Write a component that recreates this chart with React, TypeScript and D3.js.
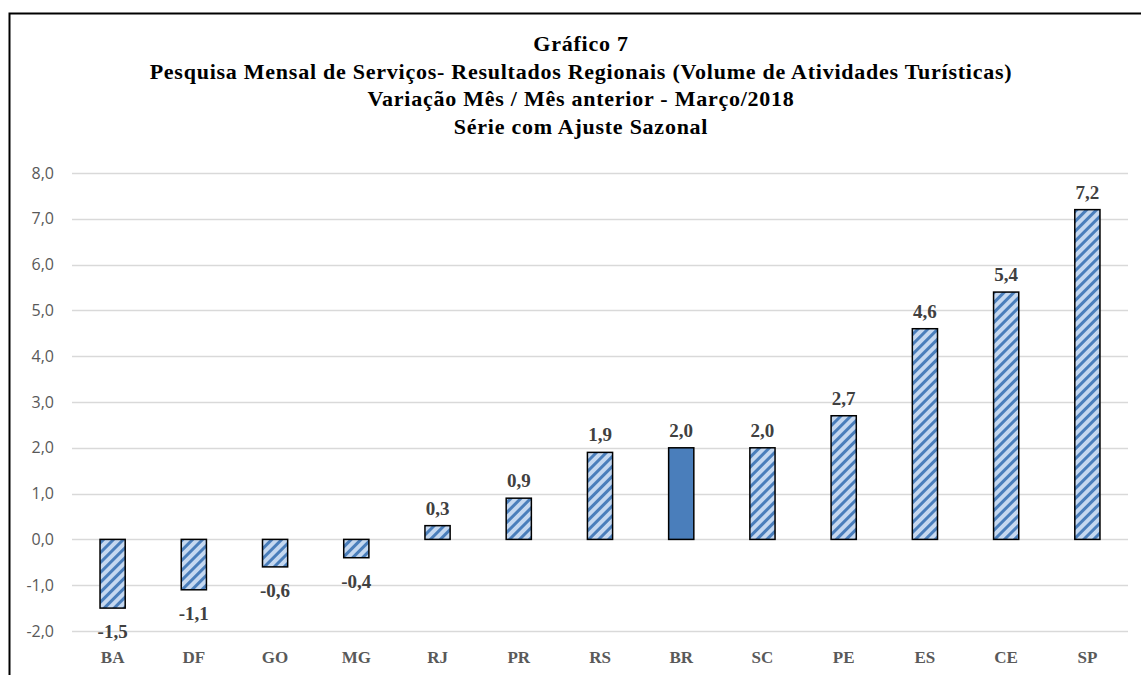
import React, { useEffect, useRef } from 'react';
import * as d3 from 'd3';

// Regions and monthly variation (%), March/2018
const regions = ['BA', 'DF', 'GO', 'MG', 'RJ', 'PR', 'RS', 'BR', 'SC', 'PE', 'ES', 'CE', 'SP'];
const variation = [-1.5, -1.1, -0.6, -0.4, 0.3, 0.9, 1.9, 2.0, 2.0, 2.7, 4.6, 5.4, 7.2];
const yTicks = [-2, -1, 0, 1, 2, 3, 4, 5, 6, 7, 8];
const titleLines = [
  'Gráfico 7',
  'Pesquisa Mensal de Serviços- Resultados Regionais (Volume de Atividades Turísticas)',
  'Variação Mês / Mês anterior - Março/2018',
  'Série com Ajuste Sazonal',
];

const W = 1141;
const H = 675;
const fmt = (v: number) => v.toFixed(1).replace('.', ',');

const App = () => {
  const ref = useRef<SVGSVGElement | null>(null);

  useEffect(() => {
    const svg = d3.select(ref.current);
    svg.selectAll('*').remove();

    const margin = { top: 173, right: 13, bottom: 44, left: 72 };
    const width = W - margin.left - margin.right;
    const height = H - margin.top - margin.bottom;

    // hatch pattern for the regional bars
    const defs = svg.append('defs');
    const pat = defs.append('pattern')
      .attr('id', 'hatch')
      .attr('patternUnits', 'userSpaceOnUse')
      .attr('width', 7)
      .attr('height', 7)
      .attr('patternTransform', 'rotate(45)');
    pat.append('rect').attr('width', 7).attr('height', 7).attr('fill', '#c5d8f0');
    pat.append('rect').attr('width', 3).attr('height', 7).attr('fill', '#4a7ebb');

    svg.append('rect').attr('width', W).attr('height', H).attr('fill', '#fff');

    // outer frame (top and left edges visible)
    svg.append('path')
      .attr('d', `M9.5,${H} V13.5 H${W}`)
      .attr('fill', 'none')
      .attr('stroke', '#000')
      .attr('stroke-width', 2);

    // title
    svg.append('g')
      .selectAll('text')
      .data(titleLines)
      .enter()
      .append('text')
        .attr('x', 581)
        .attr('y', (d, i) => 51 + i * 27.7)
        .attr('text-anchor', 'middle')
        .attr('font-family', 'Liberation Serif, serif')
        .attr('font-weight', 'bold')
        .attr('font-size', 22)
        .attr('letter-spacing', 0.75)
        .attr('fill', '#000')
        .text(d => d);

    const g = svg.append('g').attr('transform', `translate(${margin.left},${margin.top})`);

    const x = d3.scaleBand()
      .domain(regions)
      .range([0, width])
      .paddingInner(0.69)
      .paddingOuter(0.345);

    const y = d3.scaleLinear()
      .domain([-2, 8])
      .range([height, 0]);

    // gridlines
    g.append('g')
      .selectAll('line')
      .data(yTicks)
      .enter()
      .append('line')
        .attr('x1', 0)
        .attr('x2', width)
        .attr('y1', d => Math.round(y(d)) + 0.5)
        .attr('y2', d => Math.round(y(d)) + 0.5)
        .attr('stroke', '#d9d9d9')
        .attr('stroke-width', 1.5);

    // y tick labels
    g.append('g')
      .selectAll('text')
      .data(yTicks)
      .enter()
      .append('text')
        .attr('x', -18)
        .attr('y', d => y(d))
        .attr('dy', '0.35em')
        .attr('text-anchor', 'end')
        .attr('font-family', 'Open Sans, sans-serif')
        .attr('font-size', 16)
        .attr('fill', '#595959')
        .text(d => fmt(d));

    // bars
    g.append('g')
      .selectAll('rect')
      .data(variation)
      .enter()
      .append('rect')
        .attr('x', (d, i) => x(regions[i]) as number)
        .attr('y', d => y(Math.max(0, d)))
        .attr('width', x.bandwidth())
        .attr('height', d => Math.abs(y(d) - y(0)))
        .attr('fill', (d, i) => regions[i] === 'BR' ? '#4a7ebb' : 'url(#hatch)')
        .attr('stroke', '#000')
        .attr('stroke-width', 1.5);

    // data labels
    g.append('g')
      .selectAll('text')
      .data(variation)
      .enter()
      .append('text')
        .attr('x', (d, i) => (x(regions[i]) as number) + x.bandwidth() / 2)
        .attr('y', d => d >= 0 ? y(d) - 11 : y(d) + 30)
        .attr('text-anchor', 'middle')
        .attr('font-family', 'Liberation Serif, serif')
        .attr('font-weight', 'bold')
        .attr('font-size', 19)
        .attr('fill', '#404040')
        .text(d => fmt(d));

    // category labels
    g.append('g')
      .selectAll('text')
      .data(regions)
      .enter()
      .append('text')
        .attr('x', d => (x(d) as number) + x.bandwidth() / 2)
        .attr('y', height + 32)
        .attr('text-anchor', 'middle')
        .attr('font-family', 'Liberation Serif, serif')
        .attr('font-weight', 'bold')
        .attr('font-size', 17)
        .attr('fill', '#595959')
        .text(d => d);
  }, []);

  return (
    <svg
      ref={ref}
      width={W}
      height={H}
      style={{ position: 'absolute', left: 0, top: 0 }}
    />
  );
};

export default App;
